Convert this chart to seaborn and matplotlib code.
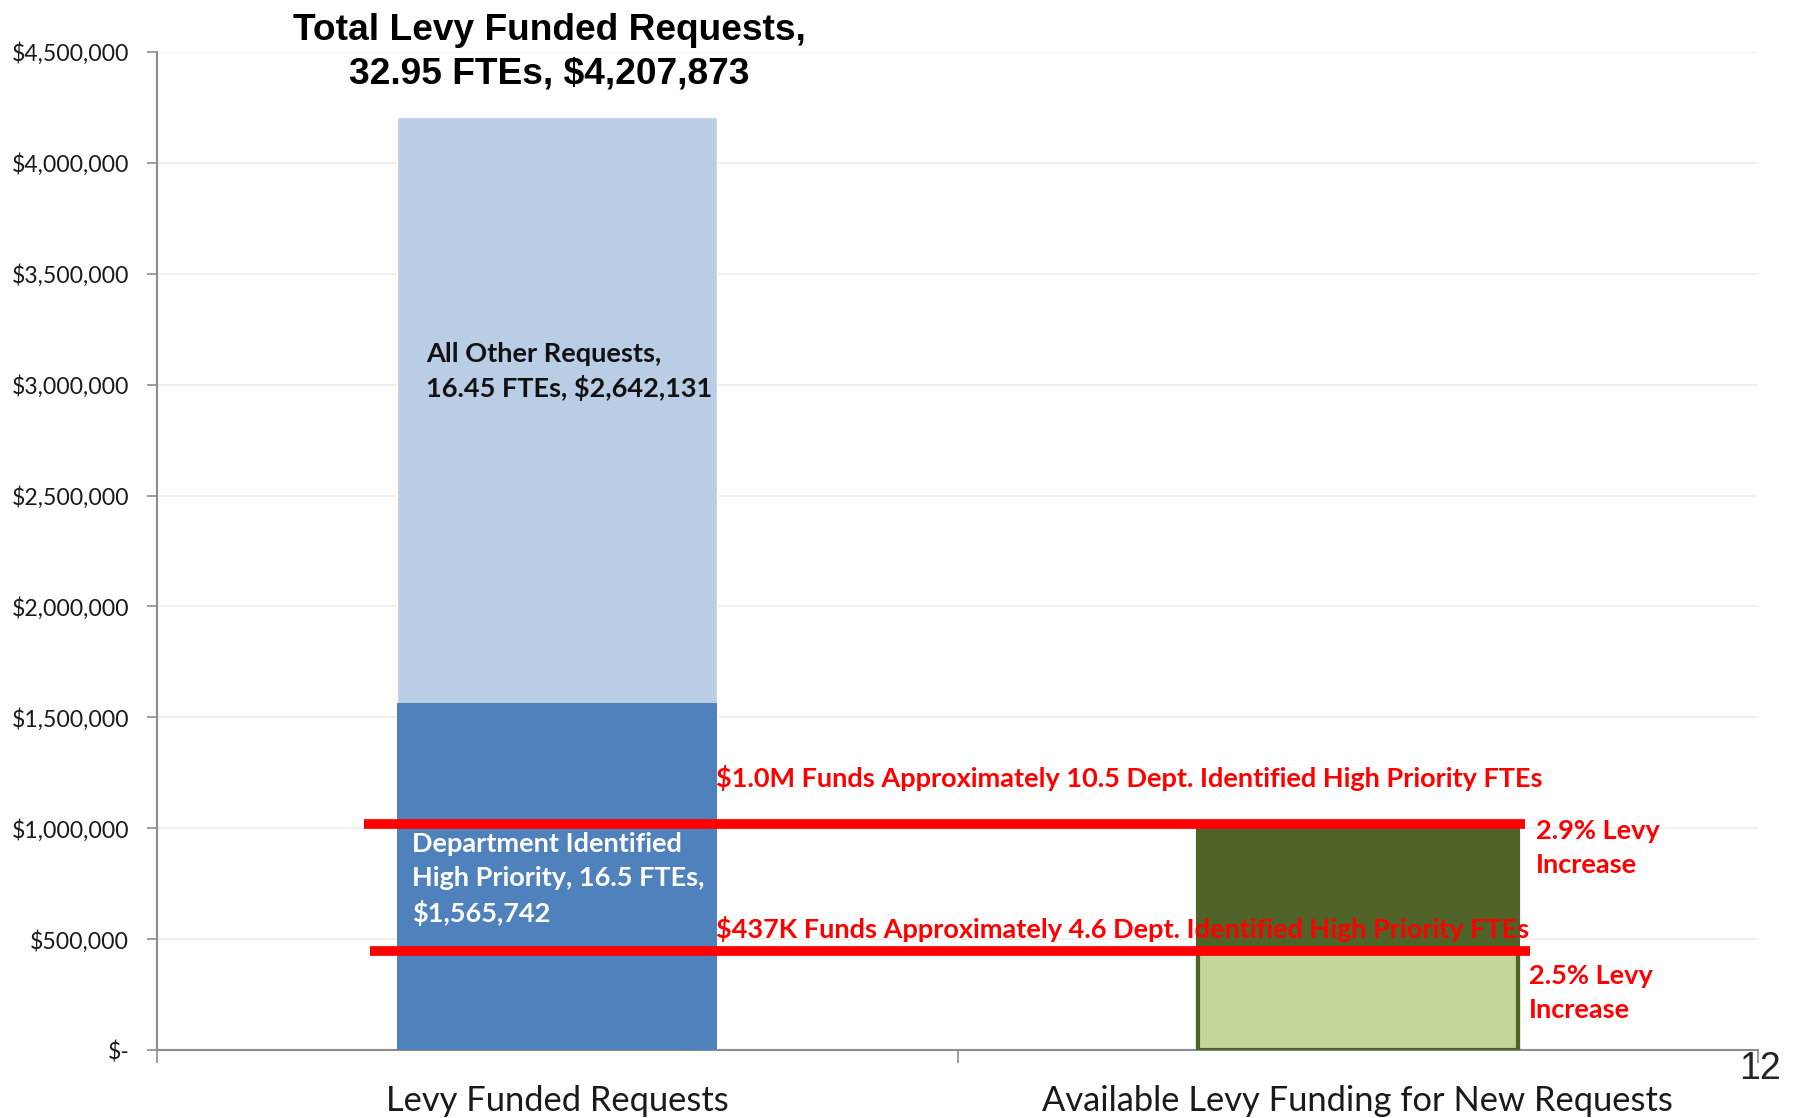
import matplotlib
matplotlib.use("Agg")
import matplotlib.pyplot as plt
import matplotlib.ticker as mticker
import seaborn as sns

# chart values
categories = ["Levy Funded Requests", "Available Levy Funding for New Requests"]
base_values = [1565742, 437000]     # lower segment of each bar
upper_values = [2642131, 563000]    # upper segment of each bar
line_levels = [1020000, 445000]     # red funding lines
y_ticks = [0, 500000, 1000000, 1500000, 2000000, 2500000, 3000000, 3500000, 4000000, 4500000]

base_colors = ["#4F81BD", "#C3D69B"]
upper_colors = ["#B9CDE5", "#4F6228"]
edge_colors = ["none", "#4F6228"]

totals = [b + u for b, u in zip(base_values, upper_values)]

sns.set_style("white")
plt.rcParams['font.family'] = ['Lato', 'DejaVu Sans']

fig = plt.figure(figsize=(17.94, 11.18), dpi=100)
ax = fig.add_axes([0.0875, 0.0608, 0.8925, 0.8927])

# full height bars first, then the lower segment on top of them
sns.barplot(x=categories, y=totals, hue=categories, palette=upper_colors,
            width=0.4, legend=False, ax=ax, zorder=2, saturation=1)
sns.barplot(x=categories, y=base_values, hue=categories, palette=base_colors,
            width=0.4, legend=False, ax=ax, zorder=3, saturation=1)
for patch, ec in zip(ax.patches[len(categories):], edge_colors):
    patch.set_edgecolor(ec)
    patch.set_linewidth(3)
ax.patches[1].set_edgecolor("#4F6228")
ax.patches[1].set_linewidth(3)

# red funding lines
ax.plot([-0.241, 1.209], [line_levels[0]] * 2, color="#FF0000", lw=7, zorder=5,
        solid_capstyle="butt")
ax.plot([-0.234, 1.215], [line_levels[1]] * 2, color="#FF0000", lw=7, zorder=5,
        solid_capstyle="butt")

ax.set_xlim(-0.5, 1.5)
ax.set_ylim(0, 4500000)
ax.set_yticks(y_ticks)
ax.yaxis.set_major_formatter(mticker.FuncFormatter(
    lambda v, p: "$-" if v == 0 else f"${v:,.0f}"))
ax.set_xlabel("")
ax.set_ylabel("")

ax.yaxis.grid(True, color="#EEEEEE", lw=1.2, zorder=0)
ax.set_axisbelow(True)
for side in ["top", "right"]:
    ax.spines[side].set_visible(False)
for side in ["left", "bottom"]:
    ax.spines[side].set_color("#8C8C8C")
    ax.spines[side].set_linewidth(1.5)

ax.tick_params(axis="y", direction="out", length=7, width=1.2, color="#8C8C8C",
               labelsize=16.6, labelcolor="#1A1A1A", pad=13, left=True)
ax.tick_params(axis="x", which="major", length=0, labelsize=24.8, pad=25, labelcolor="#1A1A1A")
ax.set_xticks([-0.5, 0.5, 1.5], minor=True)
ax.tick_params(axis="x", which="minor", direction="out", length=9, width=1.2,
               color="#8C8C8C", bottom=True)

# text annotations
bold_kw = dict(fontsize=19.5, fontweight="bold", zorder=6)
ax.text(-0.01, 4.497e6, "Total Levy Funded Requests,\n32.95 FTEs, $4,207,873",
        ha="center", va="center", fontsize=26.7, fontweight="bold", color="black",
        family=["Liberation Sans", "DejaVu Sans"], linespacing=1.32, zorder=6,
        clip_on=False)
ax.text(-0.164, 3.06e6, "All Other Requests,\n16.45 FTEs, $2,642,131",
        ha="left", va="center", color="#111111", linespacing=1.4, **bold_kw)
ax.text(-0.181, 0.77e6, "Department Identified\nHigh Priority, 16.5 FTEs,\n$1,565,742",
        ha="left", va="center", color="white", linespacing=1.48, **bold_kw)
ax.text(0.198, 1.227e6, "$1.0M Funds Approximately 10.5 Dept. Identified High Priority FTEs",
        ha="left", va="center", color="#FF0000", **bold_kw)
ax.text(0.198, 0.545e6, "$437K Funds Approximately 4.6 Dept. Identified High Priority FTEs",
        ha="left", va="center", color="#FF0000", **bold_kw)
ax.text(1.222, 0.91e6, "2.9% Levy\nIncrease",
        ha="left", va="center", color="#FF0000", linespacing=1.48, **bold_kw)
ax.text(1.214, 0.258e6, "2.5% Levy\nIncrease",
        ha="left", va="center", color="#FF0000", linespacing=1.48, **bold_kw)

fig.text(0.981, 0.044, "12", ha="center", va="center", fontsize=27,
         family=["Liberation Sans Narrow", "Liberation Sans", "DejaVu Sans"])

fig.savefig("out.png", dpi=100)
